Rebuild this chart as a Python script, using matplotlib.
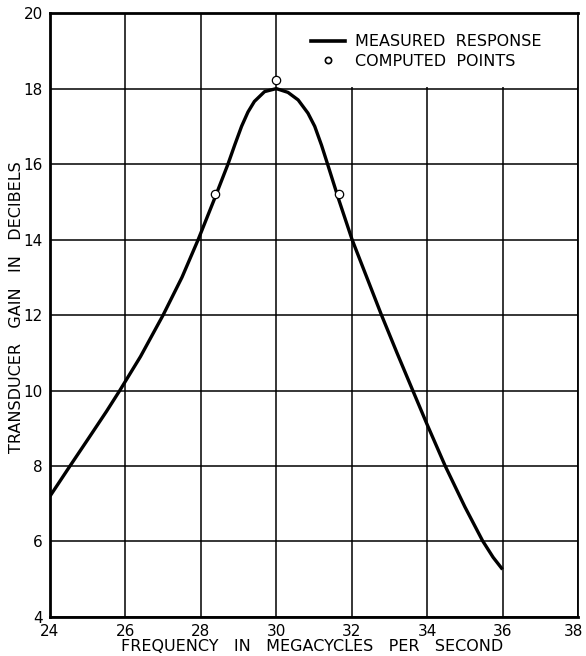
import matplotlib
matplotlib.use("Agg")
import matplotlib.pyplot as plt
import matplotlib.transforms as mtransforms
from matplotlib.patches import Rectangle
from matplotlib.lines import Line2D

# measured response curve (MHz, dB)
freq = [24.0, 24.53, 25.0, 25.5, 25.85, 26.4, 27.0, 27.5, 27.93, 28.35,
        28.72, 28.9, 29.08, 29.25, 29.42, 29.69, 30.0, 30.31, 30.58, 30.84,
        31.02, 31.2, 31.36, 31.66, 32.01, 32.4, 32.79, 33.2, 33.62, 34.0,
        34.48, 35.0, 35.47, 35.75, 36.0]
gain = [7.2, 8.0, 8.7, 9.45, 10.0, 10.9, 12.0, 13.0, 14.0, 15.05,
        16.0, 16.51, 17.0, 17.38, 17.66, 17.92, 18.0, 17.9, 17.7, 17.35,
        17.0, 16.5, 16.0, 15.05, 14.0, 13.0, 12.0, 11.0, 10.0, 9.1,
        8.0, 6.92, 6.02, 5.58, 5.26]

# computed points
comp_f = [28.38, 30.0, 31.66]
comp_g = [15.2, 18.23, 15.2]

xticks = [24, 26, 28, 30, 32, 34, 36, 38]
yticks = [4, 6, 8, 10, 12, 14, 16, 18, 20]

plt.rcParams["font.family"] = "DejaVu Sans"
fig = plt.figure(figsize=(5.86, 6.56), dpi=100)
ax = fig.add_axes([0.0853, 0.0595, 0.901, 0.9205])

ax.set_xlim(24, 38)
ax.set_ylim(4, 20)
ax.set_xticks(xticks)
ax.set_yticks(yticks)
ax.grid(True, color="black", lw=1.1)
ax.set_axisbelow(True)
ax.tick_params(length=0, labelsize=11, pad=5)

# keep the last frequency label inside the figure
last = ax.get_xticklabels()[-1]
last.set_transform(last.get_transform() +
                   mtransforms.ScaledTranslation(-4 / 100, 0, fig.dpi_scale_trans))

for side in ["left", "bottom", "top"]:
    ax.spines[side].set_linewidth(2.0)
ax.spines["right"].set_linewidth(1.3)

# white box behind the key, grid hidden there
ax.add_patch(Rectangle((30.04, 18.04), 7.96, 1.96, facecolor="white",
                       edgecolor="none", zorder=1))

ax.plot(freq, gain, color="black", lw=2.4, zorder=3,
        solid_joinstyle="round", solid_capstyle="butt")
ax.plot(comp_f, comp_g, "o", ms=6, mfc="white", mec="black", mew=0.9,
        zorder=4, clip_on=False)

handles = [Line2D([], [], color="black", lw=2.6),
           Line2D([], [], marker="o", ls="none", ms=4.5, mfc="white",
                  mec="black", mew=1.2)]
ax.legend(handles, ["MEASURED  RESPONSE", "COMPUTED  POINTS"],
          loc="upper left", bbox_to_anchor=(0.494, 0.965), frameon=False,
          borderpad=0, borderaxespad=0, handlelength=2.15,
          handletextpad=0.6, labelspacing=0.3, fontsize=11.5)

ax.set_xlabel("FREQUENCY   IN   MEGACYCLES   PER   SECOND", fontsize=11.5)
ax.xaxis.set_label_coords(0.497, -0.036)
ax.set_ylabel("TRANSDUCER   GAIN   IN   DECIBELS", fontsize=11.5)
ax.yaxis.set_label_coords(-0.05, 0.513)

fig.savefig("out.png", dpi=100)
